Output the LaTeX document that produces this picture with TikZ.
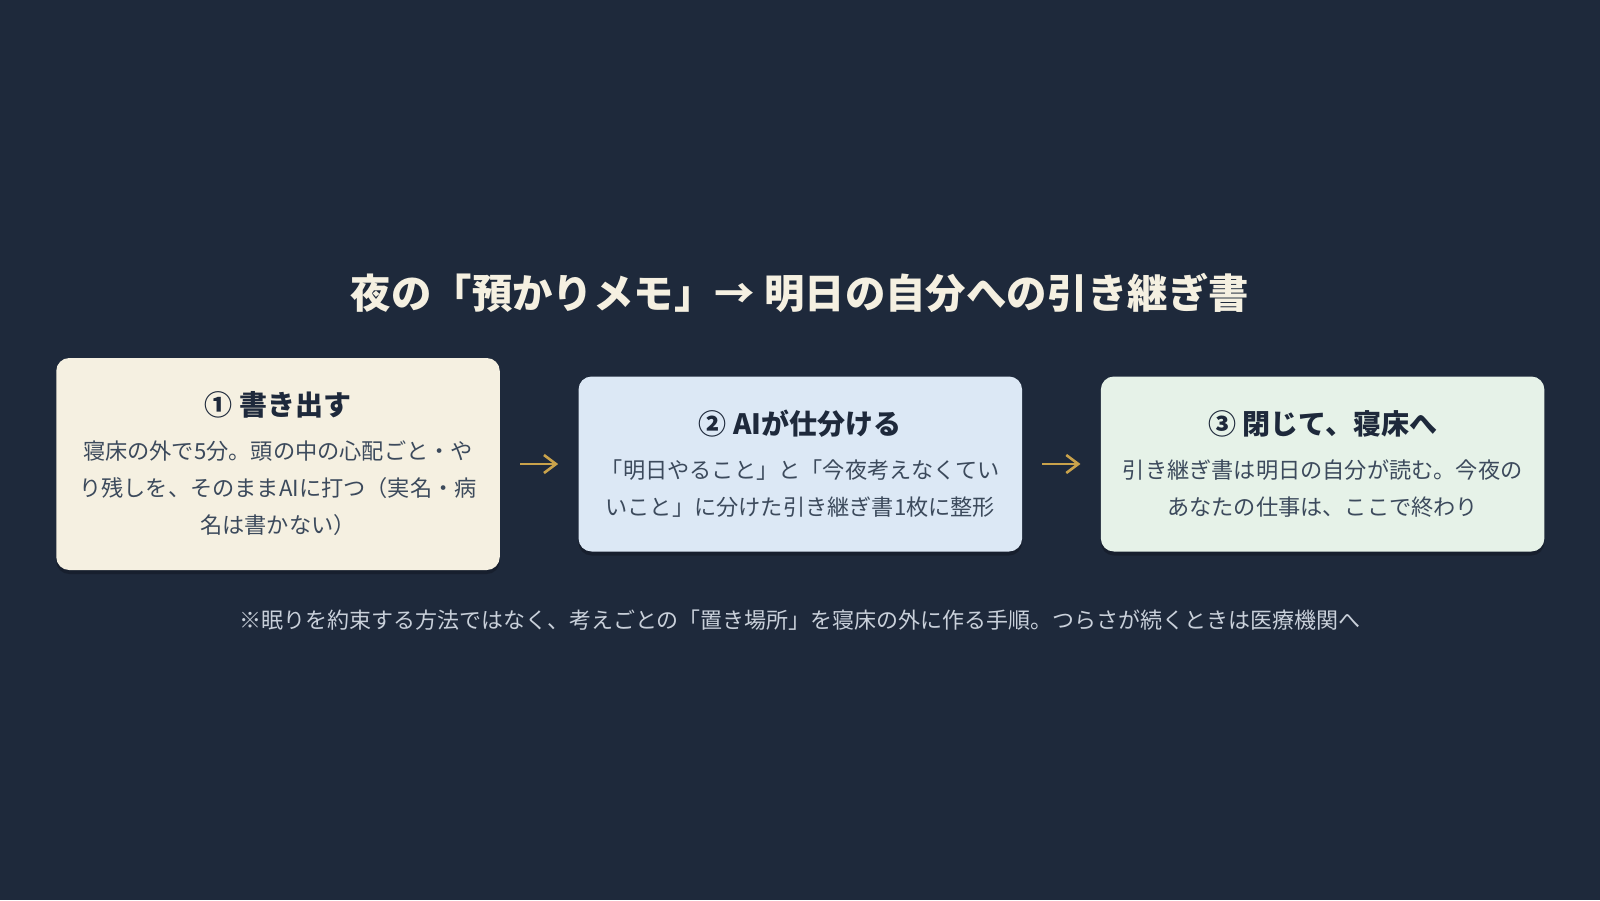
\documentclass[tikz,border=0pt]{standalone}
\usepackage{fontspec}
\setmainfont{Noto Sans CJK JP}
\usetikzlibrary{positioning,arrows.meta,shadows}
\definecolor{night}{HTML}{1E293B}
\definecolor{cream}{HTML}{F5F0E1}
\definecolor{sky}{HTML}{DCE8F5}
\definecolor{mint}{HTML}{E6F2E8}
\definecolor{headink}{HTML}{1E293B}
\definecolor{bodyink}{HTML}{3C4A5C}
\definecolor{mist}{HTML}{C9D0DA}
\definecolor{gold}{HTML}{C9A24B}
\newcommand\stephead[1]{{\fontsize{14}{16}\selectfont\bfseries\color{headink}#1}}
\begin{document}
\begin{tikzpicture}[x=0.5pt, y=-0.5pt, node distance=39pt,
    stepbox/.style={rounded corners=6.5pt, minimum width=221.75pt, inner sep=0pt,
      align=center, text=bodyink, font=\fontsize{11.1}{18.5}\selectfont,
      drop shadow={shadow xshift=0pt, shadow yshift=-2pt, opacity=0.22, fill=black}},
    handoff/.style={-{Straight Barb[length=6pt,width=9pt]}, draw=gold, line width=1.3pt,
      shorten <=10pt, shorten >=10pt}]
  \fill[night] (0,0) rectangle (1600,900);
  \useasboundingbox (0,0) rectangle (1600,900);
  % title
  \node[inner sep=0pt, text=cream, font=\fontsize{20.2}{23}\selectfont\bfseries] (title) at (800,293)
    {夜の「預かりメモ」→ 明日の自分への引き継ぎ書};
  % three steps
  \node[stepbox, fill=cream, minimum height=106pt] (write) at (278,464)
    {\stephead{① 書き出す}\\[3.5pt]
     寝床の外で5分。頭の中の心配ごと・や\\
     り残しを、そのままAIに打つ（実名・病\\
     名は書かない）};
  \node[stepbox, fill=sky, minimum height=87.5pt, right=of write] (sort)
    {\stephead{② AIが仕分ける}\\[3.5pt]
     「明日やること」と「今夜考えなくてい\\
     いこと」に分けた引き継ぎ書1枚に整形};
  \node[stepbox, fill=mint, minimum height=87.5pt, right=of sort] (close)
    {\stephead{③ 閉じて、寝床へ}\\[3.5pt]
     引き継ぎ書は明日の自分が読む。今夜の\\
     あなたの仕事は、ここで終わり};
  \draw[handoff] (write) -- (sort);
  \draw[handoff] (sort) -- (close);
  % note
  \node[inner sep=0pt, text=mist, font=\fontsize{11}{12}\selectfont] (note) at (800,620)
    {※眠りを約束する方法ではなく、考えごとの「置き場所」を寝床の外に作る手順。つらさが続くときは医療機関へ};
\end{tikzpicture}
\end{document}
